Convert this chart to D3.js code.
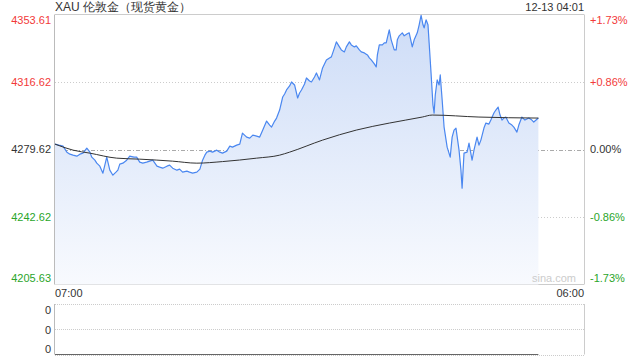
<!DOCTYPE html>
<html>
<head>
<meta charset="utf-8">
<script src="https://cdn.jsdelivr.net/npm/d3@7"></script>
<style>
  body { margin: 0; background: #fff; }
  svg { font-family: "Liberation Sans", Arial, sans-serif; }
</style>
</head>
<body>
<svg id="chart" width="640" height="360"></svg>
<script>
const title = 'XAU 伦敦金（现货黄金）'
const stamp = '12-13 04:01'
const prevClose = 4279.62

const times = ['07:00','07:10','07:21','07:31','07:39','07:47','07:57','08:05','08:13','08:23','08:31','08:36','08:44','08:49','08:57','09:05','09:10','09:15','09:23','09:31','09:39','09:44','09:49','09:57','10:07','10:15','10:26','10:33','10:41','10:49','10:59','11:07','11:15','11:26','11:33','11:41','11:52','11:59','12:07','12:18','12:25','12:33','12:44','12:51','12:59','13:10','13:18','13:25','13:31','13:36','13:44','13:51','14:02','14:10','14:17','14:28','14:36','14:43','14:54','15:02','15:09','15:20','15:28','15:36','15:46','15:54','16:02','16:12','16:20','16:25','16:33','16:38','16:46','16:54','16:59','17:04','17:12','17:17','17:25','17:33','17:38','17:43','17:51','17:56','18:04','18:09','18:17','18:22','18:30','18:38','18:43','18:48','18:56','19:01','19:09','19:14','19:22','19:27','19:35','19:40','19:48','19:53','20:01','20:06','20:14','20:19','20:27','20:35','20:40','20:45','20:53','20:58','21:01','21:06','21:14','21:19','21:24','21:32','21:37','21:45','21:50','21:53','21:58','22:06','22:11','22:19','22:24','22:32','22:37','22:45','22:50','22:55','23:00','23:03','23:08','23:13','23:16','23:21','23:26','23:29','23:32','23:37','23:42','23:45','23:50','23:55','00:03','00:11','00:16','00:21','00:26','00:34','00:39','00:42','00:47','00:55','01:00','01:08','01:13','01:21','01:26','01:31','01:39','01:44','01:52','01:57','02:05','02:10','02:16','02:21','02:26','02:31','02:36','02:44','02:52','02:57','03:05','03:10','03:18','03:26','03:36','03:44','03:49','04:01']

const prices = [4282.57,4282.02,4281.47,4278.17,4277.07,4276.52,4275.97,4277.07,4277.62,4280.37,4278.17,4275.42,4273.78,4272.13,4270.48,4266.64,4271.03,4275.42,4268.29,4265.54,4267.19,4268.29,4271.58,4272.13,4273.78,4275.97,4275.42,4275.42,4272.68,4272.13,4272.68,4273.23,4273.78,4270.48,4269.93,4269.38,4270.48,4271.03,4269.38,4268.29,4268.83,4267.19,4267.74,4267.19,4266.64,4267.19,4268.83,4273.78,4276.52,4278.17,4278.72,4278.17,4279.27,4278.17,4277.62,4278.72,4281.47,4280.92,4282.02,4282.57,4288.61,4286.41,4285.86,4287.51,4286.96,4286.41,4290.26,4295.20,4293.00,4291.91,4295.20,4296.85,4301.25,4308.39,4310.04,4312.24,4314.43,4316.63,4314.98,4307.84,4310.59,4312.24,4315.53,4318.83,4317.18,4316.63,4319.38,4321.58,4317.73,4324.32,4326.52,4328.72,4329.82,4330.37,4335.31,4338.61,4335.86,4334.21,4333.12,4335.86,4338.61,4336.96,4335.86,4336.41,4334.21,4333.12,4332.57,4331.47,4329.82,4328.72,4326.52,4324.87,4331.47,4336.96,4336.96,4338.06,4338.06,4345.21,4339.71,4334.21,4334.21,4339.71,4341.91,4343.56,4341.91,4343.01,4343.56,4335.86,4339.71,4343.56,4347.95,4353.20,4347.95,4346.30,4350.70,4347.95,4338.06,4321.58,4303.99,4299.60,4309.49,4317.73,4314.98,4320.48,4306.74,4291.91,4280.92,4275.42,4286.41,4290.26,4291.36,4279.27,4268.29,4258.38,4277.62,4278.17,4283.12,4273.78,4279.27,4286.41,4282.02,4284.76,4291.36,4294.10,4293.55,4295.75,4299.60,4301.25,4302.89,4298.50,4295.75,4296.85,4297.40,4294.10,4293.00,4291.91,4289.16,4293.00,4297.40,4295.75,4296.85,4295.75,4294.65,4296.85]

const avgTimes = ['07:00','07:47','08:31','09:41','10:41','12:07','13:10','14:17','15:46','16:46','17:12','18:38','20:06','21:32','22:58','23:24','01:26','04:01']
const avgPrices = [4282.57,4279.27,4277.62,4274.88,4274.33,4273.23,4272.13,4273.00,4274.88,4276.52,4278.17,4284.76,4290.26,4294.10,4297.40,4298.50,4297.40,4296.85]

const yTicks = [4353.61, 4316.62, 4279.62, 4242.62, 4205.63]
const pctLabels = ['+1.73%', '+0.86%', '0.00%', '-0.86%', '-1.73%']
const xLabels = ['07:00', '06:00']
const volLabels = ['0', '0', '0']

const RED = '#f23a3a'
const GREEN = '#2aa52a'
const DARK = '#333'

const parseHM = d3.timeParse('%Y-%m-%d %H:%M')
function toDate(hm) {
  const h = +hm.slice(0, 2)
  return parseHM((h < 7 ? '2025-12-13 ' : '2025-12-12 ') + hm)
}

const margin = { left: 55, right: 56, top: 14.5, mainBottom: 284.5, volTop: 304, volBottom: 354.5 }
const W = 640

const svg = d3.select('#chart')

const x = d3.scaleTime()
  .domain([toDate(xLabels[0]), toDate(xLabels[1])])
  .range([margin.left, W - margin.right])

const y = d3.scaleLinear()
  .domain([yTicks[yTicks.length - 1], yTicks[0]])
  .range([margin.mainBottom, margin.top])

const data = times.map((t, i) => ({ t: toDate(t), v: prices[i] }))
const avg = avgTimes.map((t, i) => ({ t: toDate(t), v: avgPrices[i] }))

function tickColor(v) {
  if (Math.abs(v - prevClose) < 0.01) return DARK
  return v > prevClose ? RED : GREEN
}

// gradient fill
const grad = svg.append('defs').append('linearGradient')
  .attr('id', 'fill')
  .attr('x1', 0).attr('y1', 0).attr('x2', 0).attr('y2', 1)
grad.append('stop').attr('offset', '0%').attr('stop-color', '#cddcf7')
grad.append('stop').attr('offset', '100%').attr('stop-color', '#f8fafe')

// frame
const x0 = x.range()[0], x1 = x.range()[1]
svg.append('line').attr('x1', x0).attr('x2', x1).attr('y1', margin.top).attr('y2', margin.top)
  .attr('stroke', '#ccc')
svg.append('line').attr('x1', x0).attr('x2', x1).attr('y1', margin.mainBottom).attr('y2', margin.mainBottom)
  .attr('stroke', '#ccc')
svg.append('line').attr('x1', x0 - 0.5).attr('x2', x0 - 0.5).attr('y1', margin.top).attr('y2', margin.mainBottom)
  .attr('stroke', '#bbb')
svg.append('line').attr('x1', x1 + 0.5).attr('x2', x1 + 0.5).attr('y1', margin.top).attr('y2', margin.mainBottom)
  .attr('stroke', '#ccc')

// grid
svg.selectAll('.grid')
  .data(yTicks.slice(1, -1))
  .enter().append('line')
    .attr('class', 'grid')
    .attr('x1', x0).attr('x2', x1)
    .attr('y1', d => Math.round(y(d)) + 0.5)
    .attr('y2', d => Math.round(y(d)) + 0.5)
    .attr('stroke', d => d === prevClose ? '#aaa' : '#ccc')
    .attr('stroke-dasharray', d => d === prevClose ? '4,2,1,2' : '1,2')

// area + line
svg.append('path')
  .datum(data)
  .attr('fill', 'url(#fill)')
  .attr('d', d3.area().x(d => x(d.t)).y0(margin.mainBottom).y1(d => y(d.v)))

svg.append('path')
  .datum(data)
  .attr('fill', 'none')
  .attr('stroke', '#4a87f0')
  .attr('stroke-width', 1.2)
  .attr('stroke-linejoin', 'round')
  .attr('d', d3.line().x(d => x(d.t)).y(d => y(d.v)))

svg.append('path')
  .datum(avg)
  .attr('fill', 'none')
  .attr('stroke', '#333')
  .attr('stroke-width', 1)
  .attr('d', d3.line().curve(d3.curveMonotoneX).x(d => x(d.t)).y(d => y(d.v)))

// y labels
const last = yTicks.length - 1
const dyFor = i => i === 0 ? 6 : i === last ? -6 : 0

svg.selectAll('.ylab')
  .data(yTicks)
  .enter().append('text')
    .attr('class', 'ylab')
    .attr('x', x0 - 4)
    .attr('y', (d, i) => y(d) + dyFor(i))
    .attr('dy', '0.35em')
    .attr('text-anchor', 'end')
    .attr('font-size', 11)
    .attr('fill', d => tickColor(d))
    .text(d => d.toFixed(2))

svg.selectAll('.plab')
  .data(pctLabels)
  .enter().append('text')
    .attr('class', 'plab')
    .attr('x', x1 + 6)
    .attr('y', (d, i) => y(yTicks[i]) + dyFor(i))
    .attr('dy', '0.35em')
    .attr('font-size', 11)
    .attr('fill', (d, i) => tickColor(yTicks[i]))
    .text(d => d)

// x labels
svg.selectAll('.xlab')
  .data(xLabels)
  .enter().append('text')
    .attr('class', 'xlab')
    .attr('x', (d, i) => i === 0 ? x0 : x1)
    .attr('y', 293)
    .attr('dy', '0.35em')
    .attr('text-anchor', (d, i) => i === 0 ? 'start' : 'end')
    .attr('font-size', 11)
    .attr('fill', DARK)
    .text(d => d)

// title + time
svg.append('text')
  .attr('x', x0).attr('y', 7).attr('dy', '0.35em')
  .attr('font-size', 12).attr('fill', DARK)
  .text(title)
svg.append('text')
  .attr('x', x1).attr('y', 7).attr('dy', '0.35em')
  .attr('text-anchor', 'end')
  .attr('font-size', 11).attr('fill', DARK)
  .text(stamp)

svg.append('text')
  .attr('x', x1 - 8).attr('y', 278).attr('dy', '0.35em')
  .attr('text-anchor', 'end')
  .attr('font-size', 11).attr('fill', '#ccc')
  .text('sina.com')

// volume panel
const yv = d3.scalePoint()
  .domain(d3.range(volLabels.length))
  .range([310.5, 349.5])

svg.selectAll('.vgrid')
  .data([margin.volTop, (margin.volTop + margin.volBottom) / 2, margin.volBottom])
  .enter().append('line')
    .attr('class', 'vgrid')
    .attr('x1', x0).attr('x2', x1)
    .attr('y1', d => Math.round(d) + 0.5).attr('y2', d => Math.round(d) + 0.5)
    .attr('stroke', '#ccc')
    .attr('stroke-dasharray', '1,1')

svg.append('line').attr('x1', x0 - 0.5).attr('x2', x0 - 0.5).attr('y1', margin.volTop).attr('y2', margin.volBottom)
  .attr('stroke', '#bbb')
svg.append('line').attr('x1', x1 + 0.5).attr('x2', x1 + 0.5).attr('y1', margin.volTop).attr('y2', margin.volBottom)
  .attr('stroke', '#ccc')

svg.append('line')
  .attr('x1', x0).attr('x2', x(data[data.length - 1].t))
  .attr('y1', 354.5).attr('y2', 354.5)
  .attr('stroke', '#666')

svg.selectAll('.vlab')
  .data(volLabels)
  .enter().append('text')
    .attr('class', 'vlab')
    .attr('x', x0 - 4)
    .attr('y', (d, i) => yv(i))
    .attr('dy', '0.35em')
    .attr('text-anchor', 'end')
    .attr('font-size', 11)
    .attr('fill', DARK)
    .text(d => d)
</script>
</body>
</html>
